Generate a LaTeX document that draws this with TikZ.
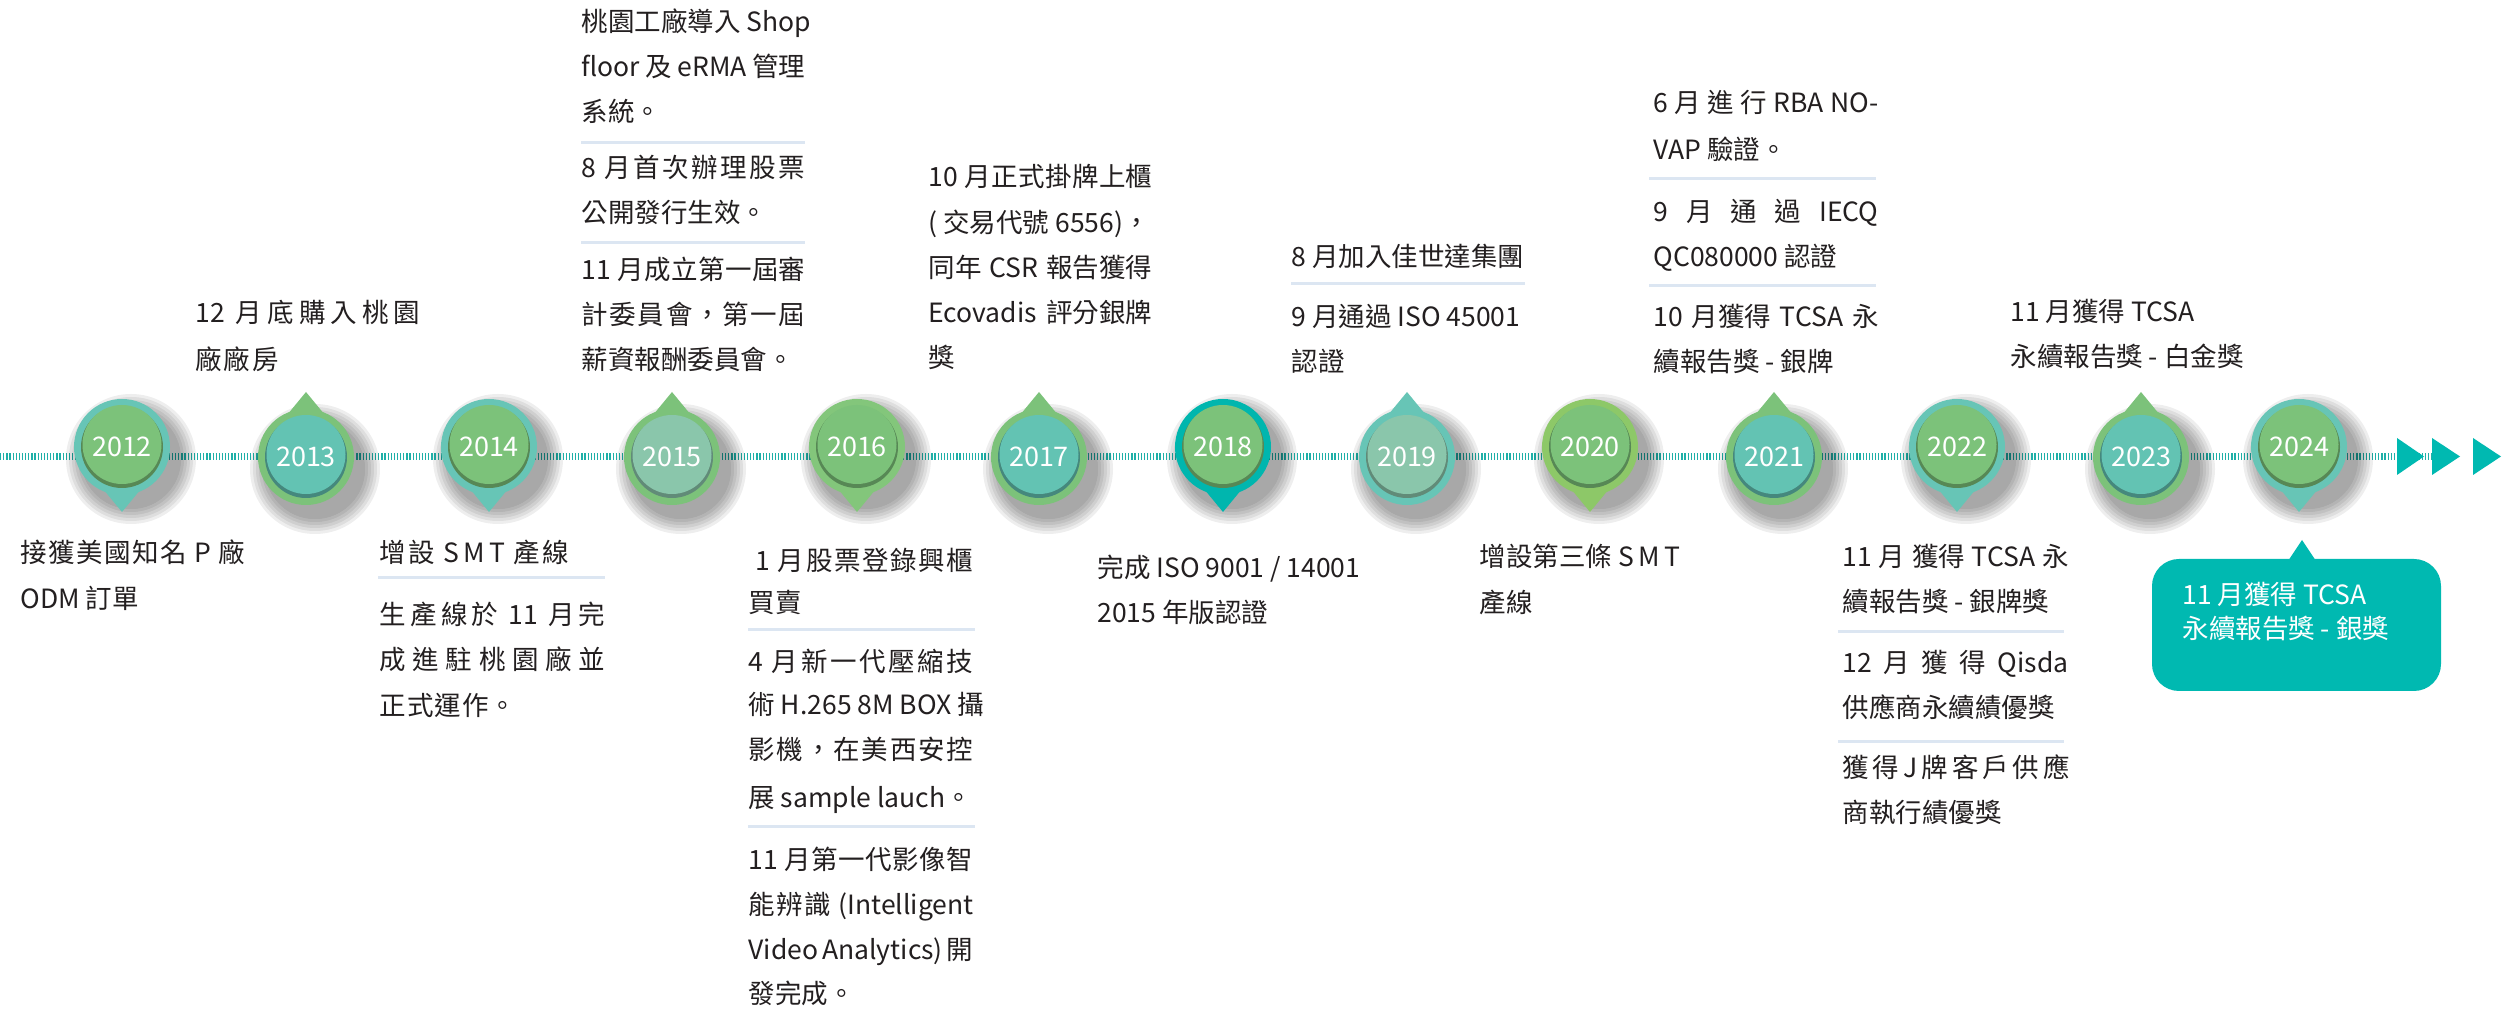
\documentclass[tikz,border=0pt]{standalone}
\usepackage{fontspec}
\setmainfont{Noto Sans CJK TC}
\definecolor{ringteal}{HTML}{67C5B6}
\definecolor{mgreen}{HTML}{7CC27A}
\definecolor{rgreen}{HTML}{83C67B}
\definecolor{iteal}{HTML}{63C3B3}
\definecolor{ggreen}{HTML}{8AC6AB}
\definecolor{bteal}{HTML}{00B6AE}
\definecolor{lgreen}{HTML}{8DC868}
\definecolor{lineteal}{HTML}{1FB0A8}
\definecolor{callout}{HTML}{00B9B1}
\definecolor{seplc}{HTML}{DCE6F2}
\definecolor{txtc}{HTML}{231F20}
\newdimen\upx \upx=0.4pt
\newcommand\ws{\hskip 6\upx plus 1fil\relax}
\newcommand\jb[2]{\makebox[#1\upx][s]{\spaceskip=0pt plus 1fil\relax #2}}
\newcommand\jw[2]{\makebox[#1\upx][s]{#2}}
\newcommand\tx[4]{\node[txt] (#1) at (#2,{#3+10}) {#4};}
\newcommand\cx[4]{\node[ctxt] (#1) at (#2,{#3+10}) {#4};}
\newcommand\mkdown[5]{%
  \begin{scope}[shift={(#2,447)}]
    \foreach \r in {50,53,...,65} \fill[black,opacity=0.065] (9,12) circle (\r);
    \fill[#3] (-20.6,40) -- (20.6,40) -- (0,65) -- cycle;
    \fill[#3] (0,0) circle (48);
    \fill[#4!70!black] (0,0) circle (41);
    \fill[#4] (0,-2.5) circle (39.5);
    \node[yeartxt] (#1) at (0,0) {#5};
  \end{scope}}
\newcommand\mkup[5]{%
  \begin{scope}[shift={(#2,457)}]
    \foreach \r in {50,53,...,65} \fill[black,opacity=0.065] (9,12) circle (\r);
    \fill[#3] (-20.6,-40) -- (20.6,-40) -- (0,-65) -- cycle;
    \fill[#3] (0,0) circle (48);
    \fill[#4!70!black] (0,0) circle (41);
    \fill[#4] (0,-2.5) circle (39.5);
    \node[yeartxt] (#1) at (0,0) {#5};
  \end{scope}}
\tikzset{
  txt/.style={anchor=base west, inner sep=0pt, font=\fontsize{10.6}{12}\selectfont, text=txtc},
  ctxt/.style={anchor=base west, inner sep=0pt, font=\fontsize{10.6}{12}\selectfont, text=white},
  yeartxt/.style={inner sep=0pt, font=\fontsize{10.8}{12}\selectfont, text=white},
  sepline/.style={draw=seplc, line width=1.2pt},
  tline/.style={draw=lineteal, line width=2.8pt, dash pattern=on 0.5pt off 0.75pt},
  tri/.style={fill=callout},
}
\begin{document}
\begin{tikzpicture}[x=0.4pt, y=-0.4pt]
\useasboundingbox (0,0) rectangle (2515,1010);
\fill[white] (0,0) rectangle (2515,1010);
% timeline
\coordinate (tlstart) at (0,457);
\coordinate (tlend) at (2432,457);
\draw[tline] (tlstart) -- (tlend);
\fill[tri] (2397,438) -- (2424,456.5) -- (2397,475) -- cycle;
\fill[tri] (2432,438) -- (2460,456.5) -- (2432,475) -- cycle;
\fill[tri] (2473,438) -- (2501,456.5) -- (2473,475) -- cycle;
% markers
\mkdown{y2012}{122}{ringteal}{mgreen}{2012}
\mkup{y2013}{306}{mgreen}{iteal}{2013}
\mkdown{y2014}{489}{ringteal}{mgreen}{2014}
\mkup{y2015}{672}{mgreen}{ggreen}{2015}
\mkdown{y2016}{857}{rgreen}{mgreen}{2016}
\mkup{y2017}{1039}{mgreen}{iteal}{2017}
\mkdown{y2018}{1223}{bteal}{mgreen}{2018}
\mkup{y2019}{1407}{ringteal}{ggreen}{2019}
\mkdown{y2020}{1590}{lgreen}{mgreen}{2020}
\mkup{y2021}{1774}{mgreen}{iteal}{2021}
\mkdown{y2022}{1957}{ringteal}{mgreen}{2022}
\mkup{y2023}{2141}{mgreen}{iteal}{2023}
\mkdown{y2024}{2299}{ringteal}{mgreen}{2024}
% A 2012
\tx{a1}{20}{553}{\jb{225}{接 獲 美 國 知 名\ws P\ws 廠}}
\tx{a2}{20}{599}{ODM 訂單}
% B 2013
\tx{b1}{195}{313}{\jb{225}{12\ws 月 底 購 入 桃 園}}
\tx{b2}{195}{360}{\jb{83}{廠 廠 房}}
% C 2014
\tx{c1}{379}{553}{\jb{190}{增 設\ws S\,M\,T\ws 產 線}}
\draw[sepline] (378,578) -- (605,578);
\tx{c2}{379}{615}{\jb{226}{生 產 線 於\ws 11\ws 月 完}}
\tx{c3}{379}{660}{\jb{226}{成 進 駐 桃 園 廠 並}}
\tx{c4}{379}{706}{\jb{137}{正 式 運 作 。}}
% D 2015
\tx{d1}{581}{22}{\jb{224}{桃 園 工 廠 導 入\ws Shop}}
\tx{d2}{581}{67}{\jw{224}{floor 及 eRMA 管理}}
\tx{d3}{581}{112}{系統。}
\draw[sepline] (581,143) -- (805,143);
\tx{d4}{581}{168}{\jb{224}{8\ws 月 首 次 辦 理 股 票}}
\tx{d5}{581}{213}{公開發行生效。}
\draw[sepline] (581,243) -- (805,243);
\tx{d6}{581}{270}{\jb{224}{11\ws 月 成 立 第 一 屆 審}}
\tx{d7}{581}{315}{\jb{224}{計 委 員 會 ， 第 一 屆}}
\tx{d8}{581}{360}{薪資報酬委員會。}
% E 2016
\tx{e1}{755}{561}{\jb{218}{1\ws 月 股 票 登 錄 興 櫃}}
\tx{e2}{748}{603}{買賣}
\draw[sepline] (748,630) -- (975,630);
\tx{e3}{748}{662}{\jb{225}{4\ws 月 新 一 代 壓 縮 技}}
\tx{e4}{748}{705}{術 H.265 8M BOX 攝}
\tx{e5}{748}{750}{\jb{225}{影 機 ， 在 美 西 安 控}}
\tx{e6}{748}{798}{展 sample lauch。}
\draw[sepline] (748,827) -- (975,827);
\tx{e7}{748}{860}{\jb{225}{11\ws 月 第 一 代 影 像 智}}
\tx{e8}{748}{905}{\jb{225}{能 辨 識\ws (Intelligent}}
\tx{e9}{748}{950}{\jw{225}{Video Analytics) 開}}
\tx{e10}{748}{994}{發完成。}
% F 2017
\tx{f1}{928}{177}{\jb{224}{10\ws 月 正 式 掛 牌 上 櫃}}
\tx{f2}{928}{223}{( 交易代號 6556)，}
\tx{f3}{928}{268}{\jw{224}{同年 CSR 報告獲得}}
\tx{f4}{928}{313}{\jw{224}{Ecovadis 評分銀牌}}
\tx{f5}{928}{358}{獎}
% G 2018
\tx{g1}{1097}{568}{完成 ISO 9001 / 14001}
\tx{g2}{1097}{613}{2015 年版認證}
% H 2019
\tx{h1}{1291}{257}{8 月加入佳世達集團}
\draw[sepline] (1291,284) -- (1525,284);
\tx{h2}{1291}{317}{9 月通過 ISO 45001}
\tx{h3}{1291}{362}{認證}
% I 2020
\tx{i1}{1479}{557}{\jb{201}{增 設 第 三 條\ws S\,M\,T}}
\tx{i2}{1479}{603}{產線}
% J 2021
\tx{j1}{1653}{103}{\jw{225}{6 月 進 行 RBA NO-}}
\tx{j2}{1653}{150}{VAP 驗證。}
\draw[sepline] (1649,179) -- (1876,179);
\tx{j3}{1653}{212}{\jw{225}{9 月 通 過 IECQ}}
\tx{j4}{1653}{257}{QC080000 認證}
\draw[sepline] (1649,286) -- (1876,286);
\tx{j5}{1653}{317}{\jw{225}{10 月獲得 TCSA 永}}
\tx{j6}{1653}{362}{續報告獎 - 銀牌}
% K 2022
\tx{k1}{1842}{557}{\jw{226}{11 月 獲得 TCSA 永}}
\tx{k2}{1842}{602}{續報告獎 - 銀牌獎}
\draw[sepline] (1838,632) -- (2064,632);
\tx{k3}{1842}{663}{\jw{226}{12 月 獲 得 Qisda}}
\tx{k4}{1842}{708}{供應商永續績優獎}
\draw[sepline] (1838,742) -- (2064,742);
\tx{k5}{1842}{768}{\jw{226}{獲 得 J 牌 客 戶 供 應}}
\tx{k6}{1842}{813}{商執行績優獎}
% L 2023
\tx{l1}{2010}{312}{11 月獲得 TCSA}
\tx{l2}{2010}{357}{永續報告獎 - 白金獎}
% M 2024 callout
\fill[callout, rounded corners=10.8pt] (2152,559) rectangle (2441,691);
\fill[callout] (2288,561) -- (2302,540) -- (2316,561) -- cycle;
\cx{m1}{2182}{595}{11 月獲得 TCSA}
\cx{m2}{2182}{629}{永續報告獎 - 銀獎}
\end{tikzpicture}
\end{document}
